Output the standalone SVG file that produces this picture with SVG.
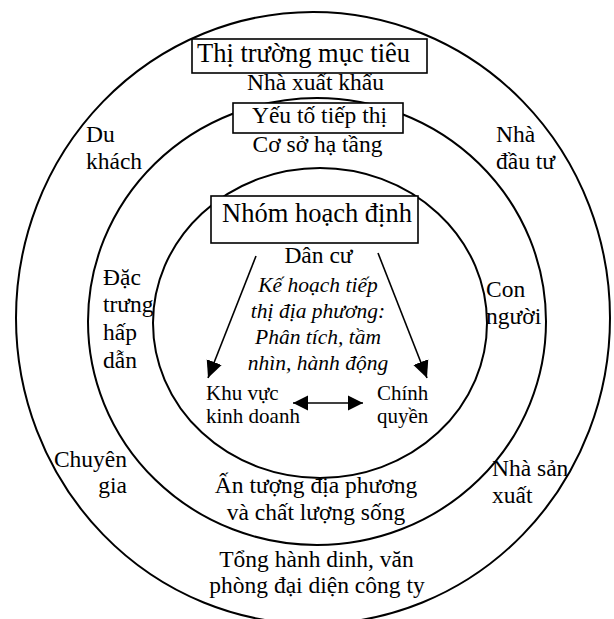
<svg xmlns="http://www.w3.org/2000/svg" width="614" height="619" viewBox="0 0 614 619">
<style>
.ring{fill:none;stroke:#000;stroke-width:2}
.box{fill:#fff;stroke:#000;stroke-width:1.6}
text{font-family:"Liberation Serif","Times New Roman",serif;fill:#000;font-size:23.5px}
.big{font-size:26.5px}
.it{font-style:italic;font-size:21.5px;text-anchor:middle}
.sm{font-size:21px}
.mid{text-anchor:middle}
.end{text-anchor:end}
.conn{stroke:#000;stroke-width:1.6;fill:none}
</style>
<defs>
<marker id="ah" markerUnits="userSpaceOnUse" markerWidth="18" markerHeight="18" refX="17" refY="8" orient="auto-start-reverse" viewBox="0 0 18 16">
<path d="M0,0 L17,8 L0,16 z" fill="#000"/>
</marker>
<marker id="ah2" markerUnits="userSpaceOnUse" markerWidth="16" markerHeight="16" refX="15" refY="7.5" orient="auto-start-reverse" viewBox="0 0 16 15">
<path d="M0,0 L15,7.5 L0,15 z" fill="#000"/>
</marker>
</defs>
<g id="rings">
<ellipse id="outer" class="ring" cx="313" cy="318" rx="297" ry="306"/>
<ellipse id="middle" class="ring" cx="317" cy="321.5" rx="229" ry="223.5"/>
<ellipse id="inner" class="ring" cx="320" cy="323" rx="167" ry="155"/>
</g>
<g id="connectors">
<line class="conn" x1="256" y1="256" x2="208" y2="378" marker-end="url(#ah)"/>
<line class="conn" x1="378" y1="253" x2="427" y2="378" marker-end="url(#ah)"/>
<line class="conn" x1="293" y1="403" x2="363" y2="403" marker-start="url(#ah2)" marker-end="url(#ah2)"/>
</g>
<g id="thi-truong">
<rect class="box" x="192" y="39" width="235" height="34"/>
<text class="big" x="197" y="62">Thị trường mục tiêu</text>
</g>
<g id="nha-xuat-khau"><text class="mid" x="315.5" y="90">Nhà xuất khẩu</text></g>
<g id="yeu-to">
<rect class="box" x="233" y="103" width="170" height="30"/>
<text class="mid" x="319.5" y="123">Yếu tố tiếp thị</text>
</g>
<g id="co-so"><text class="mid" x="317.5" y="152">Cơ sở hạ tầng</text></g>
<g id="nhom">
<rect class="box" x="211" y="196" width="207" height="47"/>
<text class="big" x="222" y="222">Nhóm hoạch định</text>
</g>
<g id="dan-cu"><text class="mid" x="318.5" y="263">Dân cư</text></g>
<g id="ke-hoach">
<text class="it" x="318" y="292">Kế hoạch tiếp</text>
<text class="it" x="318" y="318">thị địa phương:</text>
<text class="it" x="318" y="344">Phân tích, tầm</text>
<text class="it" x="318" y="370">nhìn, hành động</text>
</g>
<g id="khu-vuc">
<text class="sm" x="206" y="400">Khu vực</text>
<text class="sm" x="206" y="423">kinh doanh</text>
</g>
<g id="chinh-quyen">
<text class="sm" x="377" y="400">Chính</text>
<text class="sm" x="377" y="423">quyền</text>
</g>
<g id="du-khach">
<text x="86" y="142">Du</text>
<text x="86" y="169">khách</text>
</g>
<g id="nha-dau-tu">
<text x="496" y="142">Nhà</text>
<text x="496" y="169">đầu tư</text>
</g>
<g id="dac-trung">
<text x="103" y="285">Đặc</text>
<text x="103" y="312">trưng</text>
<text x="103" y="340">hấp</text>
<text x="103" y="368">dẫn</text>
</g>
<g id="con-nguoi">
<text x="486" y="297">Con</text>
<text x="486" y="324">người</text>
</g>
<g id="chuyen-gia">
<text class="end" x="127" y="467">Chuyên</text>
<text class="end" x="127" y="493">gia</text>
</g>
<g id="nha-san-xuat">
<text x="492" y="476">Nhà sản</text>
<text x="492" y="503">xuất</text>
</g>
<g id="an-tuong">
<text class="mid" x="316" y="493">Ấn tượng địa phương</text>
<text class="mid" x="316" y="520">và chất lượng sống</text>
</g>
<g id="tong-hanh-dinh">
<text class="mid" x="316.5" y="567">Tổng hành dinh, văn</text>
<text class="mid" x="317" y="593">phòng đại diện công ty</text>
</g>
</svg>
